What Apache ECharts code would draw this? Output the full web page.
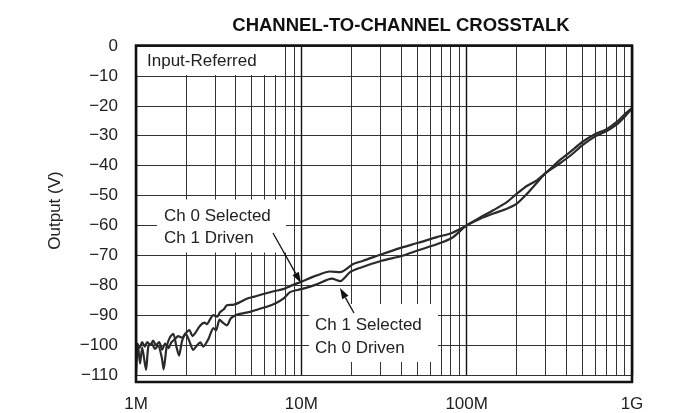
<!DOCTYPE html>
<html><head><meta charset="utf-8">
<script src="https://cdn.jsdelivr.net/npm/echarts@6/dist/echarts.min.js"></script>
<style>html,body{margin:0;padding:0;background:#fff}#c{width:689px;height:413px}</style>
</head><body><div id="c"></div>
<script>
// Frequencies in MHz, output in V (as labelled)
const freqA = [1.00,1.02,1.05,1.09,1.13,1.17,1.22,1.27,1.32,1.38,1.44,1.5,1.57,1.64,1.72,1.8,1.9,2.0,2.1,2.2,2.28,2.44,2.6,2.68,2.8,2.93,3.1,3.22,3.4,3.54,3.88,4.2,4.68,5.2,5.9,6.8,7.78,8.55,10,12.4,14.9,17.2,20.6,23.7,30.6,40.4,51,65.9,81.3,100,120,145,175,200,231,266,300,367,423,500,600,703,809,900,1000];
const valA = [-104,-99.5,-101,-99,-100.5,-99,-100,-98.5,-100,-99,-101.5,-99.5,-101,-99,-98,-97,-97.5,-96,-95,-97,-96,-93.5,-92.5,-93,-91.5,-90,-90.5,-89,-88,-86.7,-86.5,-85.8,-84.5,-83.8,-82.9,-82,-81.3,-80.3,-78.8,-76.7,-75.4,-75.6,-72.9,-71.8,-69.6,-67.4,-65.8,-63.9,-62.5,-60,-57.4,-54.9,-52.2,-49.5,-46.8,-44.9,-42.5,-38.1,-35.4,-32.1,-29.4,-27.8,-25.4,-22.9,-20.8];
const freqB = [1.00,1.028,1.058,1.09,1.15,1.19,1.25,1.3,1.36,1.43,1.47,1.53,1.6,1.68,1.76,1.82,1.9,2.0,2.1,2.22,2.33,2.45,2.55,2.74,2.94,3.05,3.2,3.35,3.55,3.75,4.06,4.5,4.9,5.5,6.18,7.0,7.78,8.55,10,12.4,15.3,17.2,19.7,22.6,30.6,40.4,51,65.9,81.3,100,120,145,175,200,231,266,300,367,423,500,600,703,809,900,1000];
const valB = [-109,-100.2,-106.2,-100.8,-108.3,-100.2,-99.7,-101.3,-100.2,-104,-108.1,-100.8,-97.5,-96.2,-100.8,-103.5,-98.6,-96.2,-98.6,-101.6,-100.2,-99.1,-100.5,-98,-94.3,-95.1,-91.5,-92.5,-93.4,-91,-89.9,-89.3,-88.9,-88,-87.2,-86,-84.5,-82.3,-81.3,-79.7,-77.8,-78.6,-75.6,-74.2,-71.8,-70.2,-68.3,-66.3,-64.2,-60,-57.8,-56,-54.4,-52.8,-49.5,-45.7,-42.5,-39.2,-36.7,-33.2,-30.2,-28.4,-26.2,-23.7,-20.8];
const xTickValues = [1, 10, 100, 1000];
const xTickLabels = ['1M', '10M', '100M', '1G'];
const titleText = 'CHANNEL-TO-CHANNEL CROSSTALK';
const yName = 'Output (V)';

const minorX = [];
[1, 10, 100].forEach(d => { for (let k = 2; k <= 9; k++) minorX.push(d * k); });

const zip = (f, v) => f.map((x, i) => [x, v[i]]);
const FONT = 'Liberation Sans, Arial, Helvetica, sans-serif';
const TXT = '#222';

const chart = echarts.init(document.getElementById('c'), null, {renderer: 'canvas'});

function arrow(x1, y1, x2, y2) {
  const ang = Math.atan2(y2 - y1, x2 - x1), L = 11, W = 3.6;
  const bx = x2 - L * Math.cos(ang), by = y2 - L * Math.sin(ang);
  const px = -Math.sin(ang) * W, py = Math.cos(ang) * W;
  return [
    {type: 'line', z: 60, shape: {x1: x1, y1: y1, x2: bx, y2: by}, style: {stroke: '#111', lineWidth: 1.3}},
    {type: 'polygon', z: 60, shape: {points: [[x2, y2], [bx + px, by + py], [bx - px, by - py]]}, style: {fill: '#111'}}
  ];
}

const option = {
  animation: false,
  backgroundColor: '#fff',
  title: {
    text: titleText, left: 396, top: 11, textAlign: 'center',
    textStyle: {fontFamily: FONT, fontSize: 18.5, fontWeight: 'bold', color: '#111'}
  },
  grid: {left: 136, right: 57, top: 46, bottom: 31, show: false},
  xAxis: {
    type: 'log', logBase: 10, min: 1, max: 1000,
    axisLine: {show: false},
    axisTick: {show: false},
    axisLabel: {
      margin: 21, fontFamily: FONT, fontSize: 17, color: TXT,
      formatter: v => { const i = xTickValues.findIndex(t => Math.abs(t - v) < 1e-6 * t); return i >= 0 ? xTickLabels[i] : ''; }
    },
    splitLine: {show: true, lineStyle: {color: '#111', width: 1.4}}
  },
  yAxis: {
    type: 'value', min: -110, max: 0, interval: 10,
    name: yName, nameLocation: 'middle', nameGap: 72,
    nameTextStyle: {fontFamily: FONT, fontSize: 17, color: TXT},
    axisLine: {show: false},
    axisTick: {show: false},
    axisLabel: {
      margin: 18, fontFamily: FONT, fontSize: 17, color: TXT,
      formatter: v => v < 0 ? '\u2212' + Math.abs(v) : String(v)
    },
    splitLine: {show: true, lineStyle: {color: '#333', width: 1}}
  },
  series: [
    {
      name: 'Ch 0 Selected, Ch 1 Driven', type: 'line', data: zip(freqA, valA),
      showSymbol: false, smooth: 0.25, lineStyle: {color: '#2a2a2a', width: 2.2}, z: 5,
      markLine: {
        silent: true, symbol: 'none', label: {show: false},
        lineStyle: {color: '#333', width: 1, type: 'solid'},
        data: minorX.map(x => ({xAxis: x}))
      }
    },
    {
      name: 'Ch 1 Selected, Ch 0 Driven', type: 'line', data: zip(freqB, valB),
      showSymbol: false, smooth: 0.25, lineStyle: {color: '#2a2a2a', width: 2.2}, z: 5
    }
  ],
  graphic: [
    {type: 'rect', z: 50, shape: {x: 137, y: 47, width: 140, height: 28}, style: {fill: '#fff'}},
    {type: 'text', z: 51, style: {x: 147, y: 61, text: 'Input-Referred', font: '17px ' + FONT, fill: TXT, textVerticalAlign: 'middle'}},
    {type: 'rect', z: 50, shape: {x: 157, y: 199.5, width: 129, height: 53}, style: {fill: '#fff'}},
    {type: 'text', z: 51, style: {x: 164, y: 216, text: 'Ch 0 Selected', font: '17px ' + FONT, fill: TXT, textVerticalAlign: 'middle'}},
    {type: 'text', z: 51, style: {x: 164, y: 238, text: 'Ch 1 Driven', font: '17px ' + FONT, fill: TXT, textVerticalAlign: 'middle'}},
    {type: 'rect', z: 50, shape: {x: 309, y: 304, width: 129, height: 58}, style: {fill: '#fff'}},
    {type: 'text', z: 51, style: {x: 315, y: 325, text: 'Ch 1 Selected', font: '17px ' + FONT, fill: TXT, textVerticalAlign: 'middle'}},
    {type: 'text', z: 51, style: {x: 315, y: 348, text: 'Ch 0 Driven', font: '17px ' + FONT, fill: TXT, textVerticalAlign: 'middle'}},
    ...arrow(273, 233, 301, 283),
    ...arrow(354, 313, 340, 288),
    {type: 'rect', z: 70, shape: {x: 136, y: 45.5, width: 496, height: 336.5}, style: {fill: null, stroke: '#111', lineWidth: 2.6}}
  ]
};
chart.setOption(option);
</script>
</body></html>
